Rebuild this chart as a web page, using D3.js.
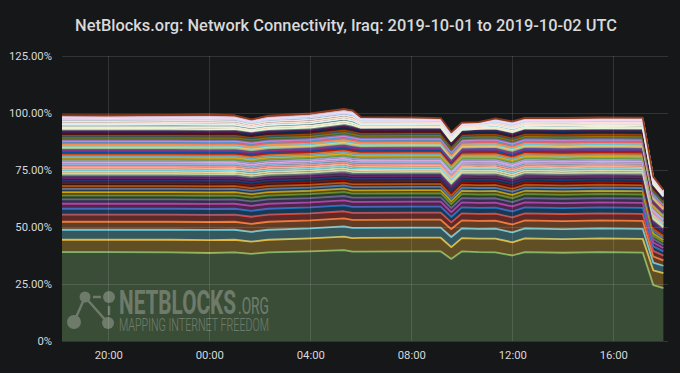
<!DOCTYPE html>
<html>
<head>
<meta charset="utf-8">
<script src="https://cdn.jsdelivr.net/npm/d3@7"></script>
<style>
  html, body { margin: 0; padding: 0; background: #161719; }
  svg { display: block; }
  text { font-family: Roboto, "Noto Sans", sans-serif; }
</style>
</head>
<body>
<svg width="680" height="373"></svg>
<script>
// sample times (UTC)
var times = ["2019-10-01 18:10","2019-10-01 20:00","2019-10-01 22:30","2019-10-02 00:00",
  "2019-10-02 01:00","2019-10-02 01:40","2019-10-02 02:20","2019-10-02 04:00",
  "2019-10-02 05:20","2019-10-02 05:40","2019-10-02 06:00","2019-10-02 08:00",
  "2019-10-02 09:10","2019-10-02 09:35","2019-10-02 10:00","2019-10-02 10:40",
  "2019-10-02 11:20","2019-10-02 12:00","2019-10-02 12:30","2019-10-02 14:00",
  "2019-10-02 15:30","2019-10-02 17:10","2019-10-02 17:35","2019-10-02 17:59"];

// connectivity share (%) per network, bottom of the stack first
var lowerNetworks = [
  [39.0,39.0,38.9,38.6,38.9,38.2,38.9,39.3,39.9,39.2,39.2,39.3,39.3,36.0,39.3,39.0,38.9,37.5,39.0,38.7,39.0,38.8,24.5,23.2],
  [5.4,5.4,5.5,5.6,5.5,5.4,5.5,5.7,5.9,5.9,6.0,6.0,6.0,5.2,5.8,5.9,6.0,5.8,6.0,6.0,6.0,6.0,6.5,6.6],
  [4.4,4.4,4.4,4.5,4.4,4.3,4.4,4.4,4.5,4.5,4.4,4.4,4.4,4.4,4.3,4.3,4.4,4.3,4.4,4.4,4.4,4.4,3.4,3.2],
  [3.5,3.5,3.5,3.5,3.5,3.5,3.5,3.5,3.5,3.5,3.5,3.5,3.5,3.5,3.5,3.5,3.5,3.5,3.5,3.5,3.5,3.5,2.7,2.4],
  [3.1,3.1,3.1,3.1,3.1,3.1,3.1,3.1,3.1,3.1,3.1,3.1,3.1,2.9,3.1,3.1,3.1,3.1,3.1,3.1,3.1,3.1,2.4,2.1],
  [2.6,2.6,2.6,2.6,2.6,2.6,2.6,2.6,2.6,2.6,2.6,2.6,2.6,2.4,2.6,2.6,2.6,2.6,2.6,2.6,2.6,2.6,2.0,1.8],
  [2.2,2.2,2.2,2.2,2.2,2.2,2.2,2.2,2.2,2.2,2.2,2.2,2.2,2.1,2.2,2.2,2.2,2.2,2.2,2.2,2.2,2.2,1.7,1.5],
  [1.9,1.9,1.9,1.9,1.9,1.9,1.9,1.9,1.9,1.9,1.9,1.9,1.9,1.8,1.9,1.9,1.9,1.9,1.9,1.9,1.9,1.9,1.5,1.3],
  [1.7,1.7,1.7,1.7,1.7,1.7,1.7,1.7,1.7,1.7,1.7,1.7,1.7,1.6,1.7,1.7,1.7,1.7,1.7,1.7,1.7,1.7,1.3,1.2],
  [1.5,1.5,1.5,1.5,1.5,1.5,1.5,1.5,1.5,1.5,1.5,1.5,1.5,1.4,1.5,1.5,1.5,1.5,1.5,1.5,1.5,1.5,1.2,1.0],
  [1.4,1.4,1.4,1.4,1.4,1.4,1.4,1.4,1.4,1.4,1.4,1.4,1.4,1.3,1.4,1.4,1.4,1.4,1.4,1.4,1.4,1.4,1.1,1.0],
  [1.3,1.3,1.3,1.3,1.3,1.3,1.3,1.3,1.3,1.3,1.3,1.3,1.3,1.3,1.3,1.3,1.3,1.3,1.3,1.3,1.3,1.3,1.0,0.9],
  [1.2,1.2,1.2,1.2,1.2,1.2,1.2,1.2,1.2,1.2,1.2,1.2,1.2,1.2,1.2,1.2,1.2,1.2,1.2,1.2,1.2,1.2,0.9,0.8],
  [1.1,1.1,1.1,1.1,1.1,1.1,1.1,1.1,1.1,1.1,1.1,1.1,1.1,1.1,1.1,1.1,1.1,1.1,1.1,1.1,1.1,1.1,0.9,0.8],
  [1.1,1.1,1.1,1.1,1.1,1.1,1.1,1.1,1.1,1.1,1.1,1.1,1.1,1.1,1.1,1.1,1.1,1.1,1.1,1.1,1.1,1.1,0.9,0.8],
  [1.0,1.0,1.0,1.0,1.0,1.0,1.0,1.0,1.0,1.0,1.0,1.0,1.0,1.0,1.0,1.0,1.0,1.0,1.0,1.0,1.0,1.0,0.8,0.7]
];

var middleNetworks = [
  [.9,.9,.9,.9,.9,.9,.9,.9,.93,.93,.9,.9,.9,.87,.88,.9,.9,.9,.9,.9,.9,.9,.7,.62],
  [.9,.9,.9,.9,.9,.9,.9,.9,.93,.93,.9,.9,.9,.87,.88,.9,.9,.9,.9,.9,.9,.9,.7,.62],
  [.85,.85,.85,.85,.85,.85,.85,.85,.88,.88,.85,.85,.85,.82,.83,.85,.85,.85,.85,.85,.85,.85,.66,.59],
  [.85,.85,.85,.85,.85,.85,.85,.85,.88,.88,.85,.85,.85,.82,.83,.85,.85,.85,.85,.85,.85,.85,.66,.59],
  [.8,.8,.8,.8,.8,.8,.8,.8,.83,.83,.8,.8,.8,.77,.78,.8,.8,.8,.8,.8,.8,.8,.62,.55],
  [.8,.8,.8,.8,.8,.8,.8,.8,.83,.83,.8,.8,.8,.77,.78,.8,.8,.8,.8,.8,.8,.8,.62,.55],
  [.75,.75,.75,.75,.75,.75,.75,.75,.78,.78,.75,.75,.75,.72,.73,.75,.75,.75,.75,.75,.75,.75,.59,.52],
  [.75,.75,.75,.75,.75,.75,.75,.75,.78,.78,.75,.75,.75,.72,.73,.75,.75,.75,.75,.75,.75,.75,.59,.52],
  [.7,.7,.7,.7,.7,.7,.7,.7,.73,.73,.7,.7,.7,.67,.68,.7,.7,.7,.7,.7,.7,.7,.55,.48],
  [.7,.7,.7,.7,.7,.7,.7,.7,.73,.73,.7,.7,.7,.67,.68,.7,.7,.7,.7,.7,.7,.7,.55,.48],
  [.65,.65,.65,.65,.65,.65,.65,.65,.68,.68,.65,.65,.65,.62,.63,.65,.65,.65,.65,.65,.65,.65,.51,.45],
  [.65,.65,.65,.65,.65,.65,.65,.65,.68,.68,.65,.65,.65,.62,.63,.65,.65,.65,.65,.65,.65,.65,.51,.45],
  [.6,.6,.6,.6,.6,.6,.6,.6,.63,.63,.6,.6,.6,.57,.58,.6,.6,.6,.6,.6,.6,.6,.47,.41],
  [.6,.6,.6,.6,.6,.6,.6,.6,.63,.63,.6,.6,.6,.57,.58,.6,.6,.6,.6,.6,.6,.6,.47,.41],
  [.6,.6,.6,.6,.6,.6,.6,.6,.63,.63,.6,.6,.6,.57,.58,.6,.6,.6,.6,.6,.6,.6,.47,.41],
  [.6,.6,.6,.6,.6,.6,.6,.6,.63,.63,.6,.6,.6,.57,.58,.6,.6,.6,.6,.6,.6,.6,.47,.41],
  [.55,.55,.55,.55,.55,.55,.55,.55,.58,.58,.55,.55,.55,.52,.53,.55,.55,.55,.55,.55,.55,.55,.43,.38],
  [.55,.55,.55,.55,.55,.55,.55,.55,.58,.58,.55,.55,.55,.52,.53,.55,.55,.55,.55,.55,.55,.55,.43,.38],
  [.55,.55,.55,.55,.55,.55,.55,.55,.58,.58,.55,.55,.55,.52,.53,.55,.55,.55,.55,.55,.55,.55,.43,.38],
  [.55,.55,.55,.55,.55,.55,.55,.55,.58,.58,.55,.55,.55,.52,.53,.55,.55,.55,.55,.55,.55,.55,.43,.38],
  [.5,.5,.5,.5,.5,.5,.5,.5,.53,.53,.5,.5,.5,.47,.48,.5,.5,.5,.5,.5,.5,.5,.39,.35],
  [.5,.5,.5,.5,.5,.5,.5,.5,.53,.53,.5,.5,.5,.47,.48,.5,.5,.5,.5,.5,.5,.5,.39,.35],
  [.5,.5,.5,.5,.5,.5,.5,.5,.53,.53,.5,.5,.5,.47,.48,.5,.5,.5,.5,.5,.5,.5,.39,.35],
  [.5,.5,.5,.5,.5,.5,.5,.5,.53,.53,.5,.5,.5,.47,.48,.5,.5,.5,.5,.5,.5,.5,.39,.35],
  [.5,.5,.5,.5,.5,.5,.5,.5,.53,.53,.5,.5,.5,.47,.48,.5,.5,.5,.5,.5,.5,.5,.39,.35],
  [.5,.5,.5,.5,.5,.5,.5,.5,.53,.53,.5,.5,.5,.47,.48,.5,.5,.5,.5,.5,.5,.5,.39,.35],
  [.5,.5,.5,.5,.5,.5,.5,.5,.53,.53,.5,.5,.5,.47,.48,.5,.5,.5,.5,.5,.5,.5,.39,.35],
  [.5,.5,.5,.5,.5,.5,.5,.5,.53,.53,.5,.5,.5,.47,.48,.5,.5,.5,.5,.5,.5,.5,.39,.35],
  [.5,.5,.5,.5,.5,.5,.5,.5,.53,.53,.5,.5,.5,.47,.48,.5,.5,.5,.5,.5,.5,.5,.39,.35],
  [.5,.5,.5,.5,.5,.5,.5,.5,.53,.53,.5,.5,.5,.47,.48,.5,.5,.5,.5,.5,.5,.5,.39,.35],
  [.45,.45,.45,.45,.45,.45,.45,.45,.48,.48,.45,.45,.45,.42,.43,.45,.45,.45,.45,.45,.45,.45,.35,.31],
  [.45,.45,.45,.45,.45,.45,.45,.45,.48,.48,.45,.45,.45,.42,.43,.45,.45,.45,.45,.45,.45,.45,.35,.31]
];

var upperNetworks = [
  [.83,.81,.84,.86,.81,.70,.79,.84,.85,.86,.62,.59,.56,.52,.43,.41,.59,.63,.60,.63,.62,.64,.46,.39],
  [.75,.74,.76,.79,.74,.64,.72,.76,.78,.79,.57,.54,.51,.48,.40,.37,.54,.58,.55,.58,.57,.59,.42,.35],
  [1.05,1.04,1.06,1.10,1.04,.90,1.00,1.06,1.09,1.10,.79,.75,.71,.67,.55,.52,.75,.81,.76,.81,.79,.82,.58,.49],
  [.75,.74,.76,.79,.74,.64,.72,.76,.78,.79,.57,.54,.51,.48,.40,.37,.54,.58,.55,.58,.57,.59,.42,.35],
  [.90,.89,.91,.94,.89,.77,.86,.91,.93,.94,.68,.64,.61,.57,.47,.44,.64,.69,.65,.69,.68,.70,.50,.42],
  [.75,.74,.76,.79,.74,.64,.72,.76,.78,.79,.57,.54,.51,.48,.40,.37,.54,.58,.55,.58,.57,.59,.42,.35],
  [.60,.59,.61,.63,.59,.51,.57,.61,.62,.63,.45,.43,.41,.38,.32,.30,.43,.46,.44,.46,.45,.47,.33,.28],
  [.53,.52,.53,.55,.52,.45,.50,.53,.54,.55,.40,.37,.36,.33,.28,.26,.37,.40,.38,.40,.40,.41,.29,.25],
  [.75,.74,.76,.79,.74,.64,.72,.76,.78,.79,.57,.54,.51,.48,.40,.37,.54,.58,.55,.58,.57,.59,.42,.35]
];

var colors = ["#7EB26D","#EAB839","#6ED0E0","#EF843C","#E24D42","#1F78C1","#BA43A9","#705DA0",
  "#508642","#CCA300","#447EBF","#C15C17","#890F02","#0A437C","#6D1F62","#584477",
  "#B7DBAB","#F4D598","#70DBED","#F9BA8F","#F29191","#82B5D8","#E5A8E2","#AEA2E0",
  "#629E51","#E5AC0E","#64B0C8","#E0752D","#BF1B00","#0A50A1","#962D82","#614D93",
  "#9AC48A","#F2C96D","#65C5DB","#F9934E","#EA6460","#5195CE","#D683CE","#806EB7",
  "#3F6833","#967302","#2F575E","#99440A","#58140C","#052B51","#511749","#3F2B5B",
  "#E0F9D7","#FCEACA","#CFFAFF","#F9E2D2","#FCE2DE","#BADFF4","#F9D9F9","#DEDAF7","#8F3B1B"];

var yTicks = [0, 25, 50, 75, 100, 125];
var xTicks = ["2019-10-01 20:00","2019-10-02 00:00","2019-10-02 04:00","2019-10-02 08:00","2019-10-02 12:00","2019-10-02 16:00"];

var title = "NetBlocks.org: Network Connectivity, Iraq: 2019-10-01 to 2019-10-02 UTC";

var svg = d3.select("svg"),
    width = +svg.attr("width"),
    height = +svg.attr("height");

// plot box (window.top is reserved, so no plain "top")
var plotLeft = 62, plotRight = 668, plotTop = 56, plotBottom = 341;
var parse = d3.utcParse("%Y-%m-%d %H:%M");

var networks = lowerNetworks.concat(middleNetworks, upperNetworks);
var keys = d3.range(networks.length);

// one row per time point
var rows = times.map(function(t, i) {
  var r = { time: parse(t) };
  keys.forEach(function(k) { r[k] = networks[k][i]; });
  return r;
});

var x = d3.scaleUtc()
    .domain([parse("2019-10-01 18:10"), parse("2019-10-02 18:10")])
    .range([plotLeft, plotRight]);
var y = d3.scaleLinear().domain([0, 125]).range([plotBottom, plotTop]);

var stacked = d3.stack().keys(keys)(rows);

svg.append("rect").attr("width", width).attr("height", height).attr("fill", "#161719");

// title
svg.append("text")
    .attr("x", 346).attr("y", 31)
    .attr("text-anchor", "middle")
    .attr("fill", "#d8d9da")
    .style("font-size", "16.4px")
    .style("font-weight", 500)
    .text(title);

// stacked areas + lines
var area = d3.area()
    .x(function(d) { return x(d.data.time); })
    .y0(function(d) { return y(d[0]); })
    .y1(function(d) { return y(d[1]); });
var line = d3.line()
    .x(function(d) { return x(d.data.time); })
    .y(function(d) { return y(d[1]); });

var layers = svg.append("g").selectAll("g")
    .data(stacked)
    .enter().append("g");
layers.append("path")
    .attr("d", area)
    .attr("fill", function(d, i) { return colors[i]; })
    .attr("fill-opacity", 0.35);
layers.append("path")
    .attr("d", line)
    .attr("fill", "none")
    .attr("stroke", function(d, i) { return colors[i]; })
    .attr("stroke-width", 1.8)
    .attr("stroke-linejoin", "round");

// grid
var grid = svg.append("g").attr("stroke", "#ffffff").attr("stroke-opacity", 0.12).attr("stroke-width", 1);
grid.selectAll("line.h")
    .data(yTicks)
    .enter().append("line")
    .attr("x1", plotLeft).attr("x2", plotRight)
    .attr("y1", function(d) { return Math.round(y(d)) + 0.5; })
    .attr("y2", function(d) { return Math.round(y(d)) + 0.5; });
grid.selectAll("line.v")
    .data(xTicks)
    .enter().append("line")
    .attr("y1", plotTop).attr("y2", plotBottom)
    .attr("x1", function(d) { return Math.round(x(parse(d))) + 0.5; })
    .attr("x2", function(d) { return Math.round(x(parse(d))) + 0.5; });

// axes
var yAxis = svg.append("g")
    .attr("transform", "translate(" + (plotLeft - 7) + ",0)")
    .call(d3.axisLeft(y).tickValues(yTicks).tickSize(0)
      .tickFormat(function(d) { return d === 0 ? "0%" : d.toFixed(2) + "%"; }));
var xAxis = svg.append("g")
    .attr("transform", "translate(0," + (plotBottom + 7) + ")")
    .call(d3.axisBottom(x).tickValues(xTicks.map(parse)).tickSize(0)
      .tickFormat(d3.utcFormat("%H:%M")));
[yAxis, xAxis].forEach(function(a) {
  a.select(".domain").remove();
  a.selectAll("text")
    .attr("fill", "#d8d9da")
    .style("font-size", "11.3px")
    .style("font-family", "Roboto, sans-serif");
});

// watermark
var mark = svg.append("g").attr("opacity", 0.3).attr("fill", "#e6e6e6").attr("stroke", "#e6e6e6");
mark.append("line").attr("x1", 85).attr("y1", 297).attr("x2", 74).attr("y2", 322).attr("stroke-width", 2.5);
mark.append("line").attr("x1", 85).attr("y1", 297).attr("x2", 108).attr("y2", 323).attr("stroke-width", 2.5);
mark.append("line").attr("x1", 93).attr("y1", 297).attr("x2", 101).attr("y2", 297).attr("stroke-width", 2.5);
mark.append("line").attr("x1", 109).attr("y1", 306).attr("x2", 109).attr("y2", 315).attr("stroke-width", 2.5);
[[85, 297, 5.5], [109, 297, 6], [74, 322, 7], [108, 323, 6]].forEach(function(c) {
  mark.append("circle").attr("cx", c[0]).attr("cy", c[1]).attr("r", c[2]).attr("stroke", "none");
});
mark.append("text").attr("x", 119).attr("y", 314)
    .attr("stroke", "none")
    .attr("textLength", 117).attr("lengthAdjust", "spacingAndGlyphs")
    .style("font-size", "33px").style("font-weight", 700)
    .text("NETBLOCKS");
mark.append("text").attr("x", 238).attr("y", 314)
    .attr("stroke", "none")
    .attr("textLength", 31).attr("lengthAdjust", "spacingAndGlyphs")
    .style("font-size", "23px").style("font-weight", 400)
    .text(".ORG");
mark.append("text").attr("x", 119).attr("y", 331)
    .attr("stroke", "none")
    .attr("textLength", 150).attr("lengthAdjust", "spacingAndGlyphs")
    .style("font-size", "18px").style("font-weight", 300)
    .text("MAPPING INTERNET FREEDOM");
</script>
</body>
</html>
